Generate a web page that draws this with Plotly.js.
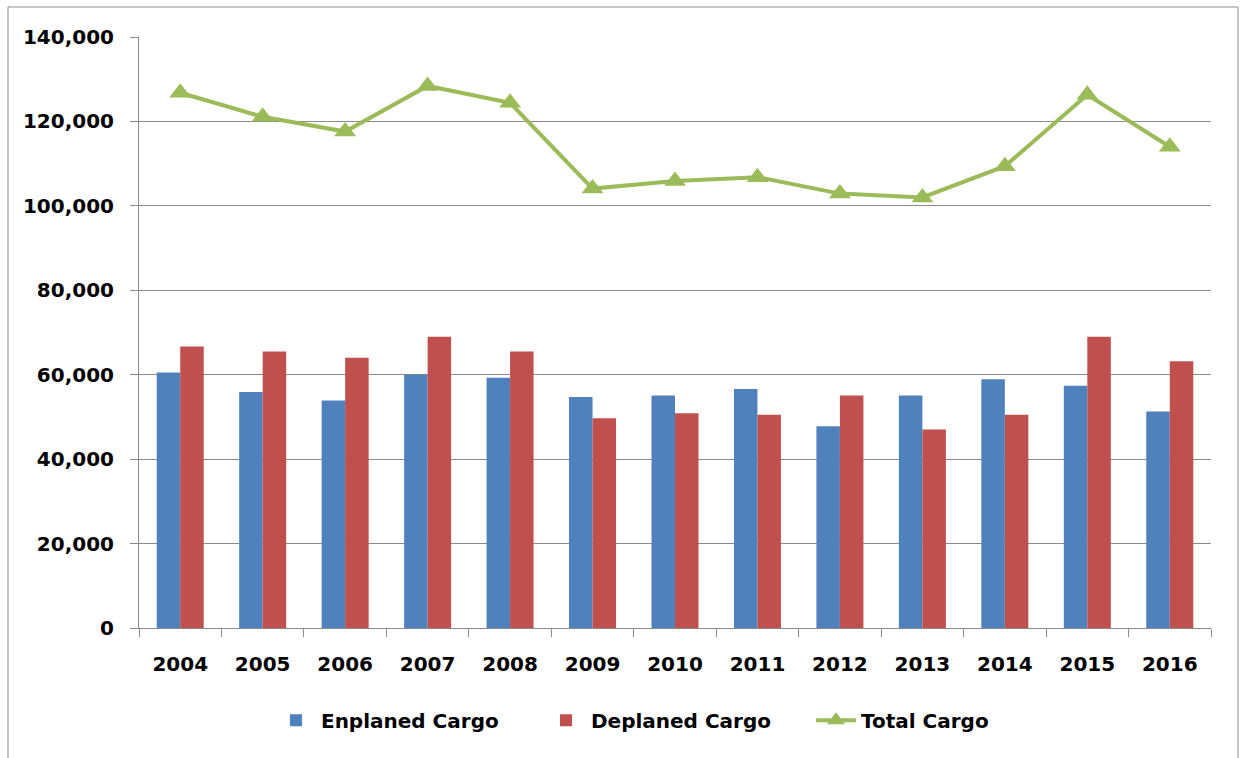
<!DOCTYPE html>
<html>
<head>
<meta charset="utf-8">
<script src="https://cdn.plot.ly/plotly-3.0.1.min.js"></script>
<style>
html,body{margin:0;padding:0;background:#fff;}
#chart{width:1243px;height:758px;}
</style>
</head>
<body>
<div id="chart"></div>
<script>
const years = ['2004','2005','2006','2007','2008','2009','2010','2011','2012','2013','2014','2015','2016'];
const enplaned = [60500, 55900, 53900, 60000, 59300, 54700, 55050, 56600, 47800, 55050, 58900, 57400, 51300];
const deplaned = [66700, 65500, 64000, 69000, 65500, 49700, 50900, 50500, 55050, 47000, 50500, 69000, 63200];
const total = [126800, 121100, 117600, 128400, 124400, 104100, 105900, 106800, 102900, 102000, 109400, 126300, 114000];
const yTicks = [0, 20000, 40000, 60000, 80000, 100000, 120000, 140000];

const font = {family: 'DejaVu Sans', size: 20, color: '#000', weight: 'bold'};
const gridColor = '#8a8a8a';

const traces = [
  {type: 'bar', name: 'Enplaned Cargo', x: years, y: enplaned,
   marker: {color: '#4F81BD'}},
  {type: 'bar', name: 'Deplaned Cargo', x: years, y: deplaned,
   marker: {color: '#C0504D'}},
  {type: 'scatter', mode: 'lines+markers', name: 'Total Cargo', x: years, y: total,
   line: {color: '#9BBB59', width: 4},
   marker: {symbol: 'triangle-up', size: 19, color: '#9BBB59'}}
];

const layout = {
  width: 1243, height: 758,
  margin: {l: 139, r: 32, t: 37, b: 130, pad: 0, autoexpand: false},
  paper_bgcolor: '#fff', plot_bgcolor: '#fff',
  font: font,
  barmode: 'group', bargap: 0.43, bargroupgap: 0,
  showlegend: true,
  legend: {orientation: 'h', x: 0.1231, xanchor: 'left', y: -0.156, yanchor: 'middle',
           font: font, itemwidth: 40, entrywidth: 215, entrywidthmode: 'pixels',
           traceorder: 'normal'},
  xaxis: {type: 'category', range: [-0.5, 12.5], showline: true, linecolor: gridColor, linewidth: 1,
          ticks: 'outside', tickson: 'boundaries', ticklen: 8, tickcolor: gridColor,
          showgrid: false, tickfont: font, ticklabelstandoff: 18, fixedrange: true},
  yaxis: {range: [0, 140000], tickvals: yTicks, tickformat: ',d',
          showline: true, linecolor: gridColor, linewidth: 1,
          ticks: 'outside', ticklen: 8, tickcolor: gridColor,
          showgrid: true, gridcolor: gridColor, gridwidth: 1, zeroline: false,
          tickfont: font, ticklabelstandoff: 12, fixedrange: true},
  shapes: [
    {type: 'rect', xref: 'paper', yref: 'paper',
     x0: -0.1222, x1: 1.0252, y0: -0.26, y1: 1.0508,
     line: {color: '#8c8c8c', width: 1}, fillcolor: 'rgba(0,0,0,0)', layer: 'below'}
  ]
};

Plotly.newPlot('chart', traces, layout, {displayModeBar: false, staticPlot: true});
</script>
</body>
</html>
